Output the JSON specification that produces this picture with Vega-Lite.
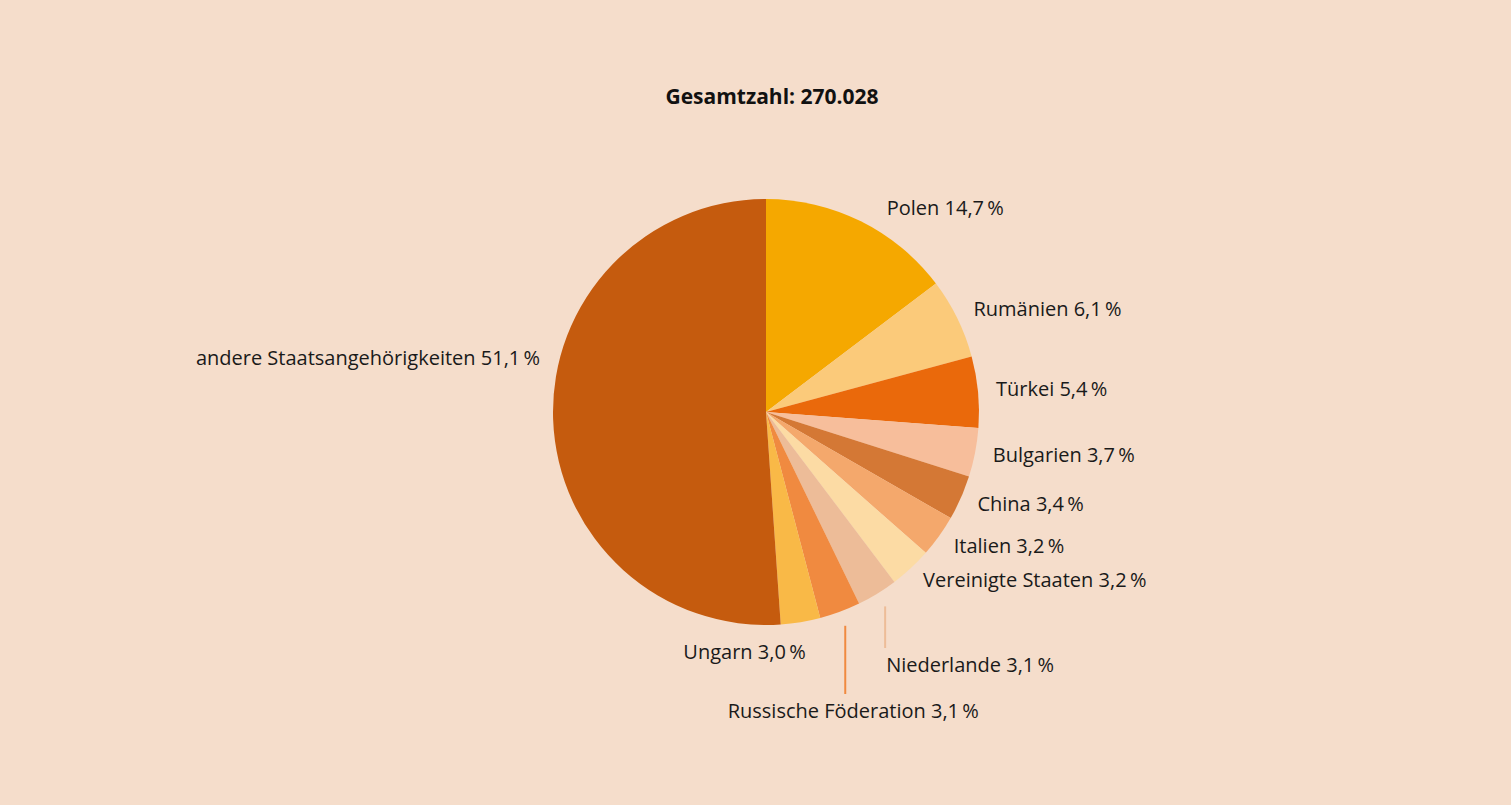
{
  "$schema": "https://vega.github.io/schema/vega-lite/v6.json",
  "width": 1511,
  "height": 805,
  "autosize": {"type": "fit", "contains": "padding"},
  "padding": {"left": 21, "top": 19, "right": 0, "bottom": 0},
  "background": "#F5DDCB",
  "title": {
    "text": "Gesamtzahl: 270.028",
    "font": "Open Sans",
    "fontSize": 21,
    "fontWeight": "bold",
    "color": "#111111",
    "anchor": "middle",
    "frame": "group",
    "orient": "top",
    "offset": -89,
    "dx": 6
  },
  "config": {"view": {"stroke": null}, "font": "Open Sans"},
  "data": {
    "values": [
      {"idx": 1, "land": "Polen", "pct": 14.7, "label": "Polen 14,7\u2009%"},
      {"idx": 2, "land": "Rumänien", "pct": 6.1, "label": "Rumänien 6,1\u2009%"},
      {"idx": 3, "land": "Türkei", "pct": 5.4, "label": "Türkei 5,4\u2009%"},
      {"idx": 4, "land": "Bulgarien", "pct": 3.7, "label": "Bulgarien 3,7\u2009%"},
      {"idx": 5, "land": "China", "pct": 3.4, "label": "China 3,4\u2009%"},
      {"idx": 6, "land": "Italien", "pct": 3.2, "label": "Italien 3,2\u2009%"},
      {"idx": 7, "land": "Vereinigte Staaten", "pct": 3.2, "label": "Vereinigte Staaten 3,2\u2009%"},
      {"idx": 8, "land": "Niederlande", "pct": 3.1, "label": "Niederlande 3,1\u2009%"},
      {"idx": 9, "land": "Russische Föderation", "pct": 3.1, "label": "Russische Föderation 3,1\u2009%"},
      {"idx": 10, "land": "Ungarn", "pct": 3.0, "label": "Ungarn 3,0\u2009%"},
      {"idx": 11, "land": "andere Staatsangehörigkeiten", "pct": 51.1, "label": "andere Staatsangehörigkeiten 51,1\u2009%"}
    ]
  },
  "layer": [
    {
      "mark": {"type": "arc", "outerRadius": 213},
      "encoding": {
        "theta": {"field": "pct", "type": "quantitative", "stack": true},
        "order": {"field": "idx", "type": "quantitative", "sort": "ascending"},
        "color": {
          "field": "land",
          "type": "nominal",
          "legend": null,
          "scale": {
            "domain": ["Polen", "Rumänien", "Türkei", "Bulgarien", "China", "Italien", "Vereinigte Staaten", "Niederlande", "Russische Föderation", "Ungarn", "andere Staatsangehörigkeiten"],
            "range": ["#F5A800", "#FBCA7A", "#EA690B", "#F7BE9B", "#D47835", "#F4A86C", "#FCDBA4", "#EDBC98", "#F08A40", "#F9B947", "#C55B0E"]
          }
        }
      }
    },
    {
      "mark": {"type": "text", "align": "left", "baseline": "middle", "fontSize": 20, "color": "#1a1a1a"},
      "encoding": {
        "theta": {"field": "pct", "type": "quantitative", "stack": true},
        "order": {"field": "idx", "type": "quantitative", "sort": "ascending"},
        "detail": {"field": "land", "type": "nominal"},
        "radius": {"value": 231},
        "text": {
          "condition": {"test": "indexof(['Rumänien','Türkei','Bulgarien','China','Italien','Vereinigte Staaten'], datum.land) >= 0", "field": "label"},
          "value": ""
        }
      }
    },
    {
      "mark": {"type": "text", "align": "left", "baseline": "middle", "fontSize": 20, "color": "#1a1a1a", "dx": 16, "dy": 7},
      "encoding": {
        "theta": {"field": "pct", "type": "quantitative", "stack": true},
        "order": {"field": "idx", "type": "quantitative", "sort": "ascending"},
        "detail": {"field": "land", "type": "nominal"},
        "radius": {"value": 235},
        "text": {
          "condition": {"test": "datum.land == 'Polen'", "field": "label"},
          "value": ""
        }
      }
    },
    {
      "mark": {"type": "text", "align": "right", "baseline": "middle", "fontSize": 20, "color": "#1a1a1a"},
      "encoding": {
        "theta": {"field": "pct", "type": "quantitative", "stack": true},
        "order": {"field": "idx", "type": "quantitative", "sort": "ascending"},
        "detail": {"field": "land", "type": "nominal"},
        "radius": {"value": 244},
        "text": {
          "condition": {"test": "datum.land == 'Ungarn'", "field": "label"},
          "value": ""
        }
      }
    },
    {
      "mark": {"type": "text", "align": "right", "baseline": "middle", "fontSize": 20, "color": "#1a1a1a", "dy": -61},
      "encoding": {
        "theta": {"field": "pct", "type": "quantitative", "stack": true},
        "order": {"field": "idx", "type": "quantitative", "sort": "ascending"},
        "detail": {"field": "land", "type": "nominal"},
        "radius": {"value": 226},
        "text": {
          "condition": {"test": "datum.land == 'andere Staatsangehörigkeiten'", "field": "label"},
          "value": ""
        }
      }
    },
    {
      "transform": [
        {"joinaggregate": [{"op": "sum", "field": "pct", "as": "total"}]},
        {"window": [{"op": "sum", "field": "pct", "as": "cum"}], "sort": [{"field": "idx", "order": "ascending"}], "frame": [null, 0]},
        {"calculate": "2 * PI * (datum.cum - datum.pct / 2) / datum.total", "as": "mid"},
        {"filter": "datum.land == 'Niederlande' || datum.land == 'Russische Föderation'"},
        {"calculate": "228 * sin(datum.mid)", "as": "sx"},
        {"calculate": "-228 * cos(datum.mid)", "as": "sy"},
        {"calculate": "datum.land == 'Niederlande' ? 236 : 282", "as": "ey"},
        {"calculate": "datum.ey + 18", "as": "ty"},
        {"calculate": "datum.land == 'Niederlande' ? datum.sx + 1 : datum.sx + 8", "as": "tx"}
      ],
      "layer": [
        {
          "mark": {"type": "rule", "strokeWidth": 2},
          "encoding": {
            "x": {"field": "sx", "type": "quantitative", "scale": {"domain": [-745, 745], "nice": false, "zero": false}, "axis": null},
            "y": {"field": "sy", "type": "quantitative", "scale": {"domain": [393, -393], "nice": false, "zero": false}, "axis": null},
            "y2": {"field": "ey"},
            "color": {"field": "land", "type": "nominal", "legend": null}
          }
        },
        {
          "transform": [{"filter": "datum.land == 'Niederlande'"}],
          "mark": {"type": "text", "align": "left", "baseline": "middle", "fontSize": 20, "color": "#1a1a1a"},
          "encoding": {
            "x": {"field": "tx", "type": "quantitative"},
            "y": {"field": "ty", "type": "quantitative"},
            "text": {"field": "label"}
          }
        },
        {
          "transform": [{"filter": "datum.land == 'Russische Föderation'"}],
          "mark": {"type": "text", "align": "center", "baseline": "middle", "fontSize": 20, "color": "#1a1a1a"},
          "encoding": {
            "x": {"field": "tx", "type": "quantitative"},
            "y": {"field": "ty", "type": "quantitative"},
            "text": {"field": "label"}
          }
        }
      ]
    }
  ]
}
